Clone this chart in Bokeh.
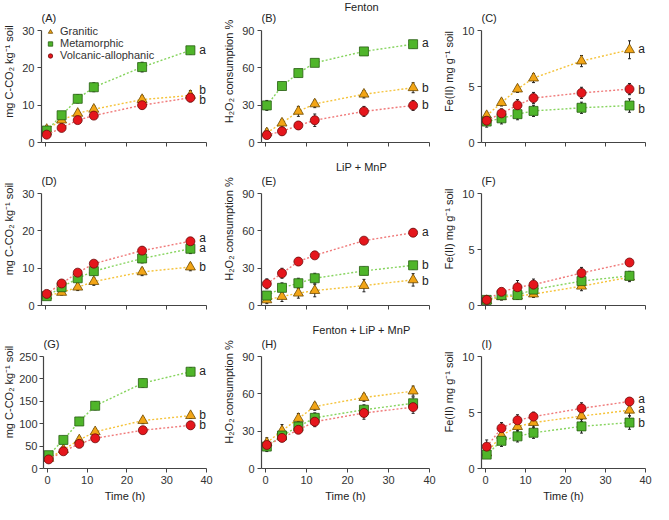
from bokeh.plotting import figure
from bokeh.models import (Range1d, FixedTicker, ColumnDataSource, Whisker, TeeHead,
                          Label, Legend, LegendItem)
from bokeh.layouts import row, column
from bokeh.embed import file_html
from bokeh.resources import INLINE
from bokeh.core.properties import value

FONT = "Liberation Sans"

# ---------------- data ----------------
times = [0.3, 4, 8, 12, 24, 36]
series_names = ["Granitic", "Metamorphic", "Volcanic-allophanic"]
x_ticks = [0, 10, 20, 30, 40]

# Fenton
A_gran = [3.5, 6.0, 7.8, 8.9, 11.5, 12.6]
A_meta = [3.2, 7.3, 11.7, 14.8, 20.2, 24.7]
A_volc = [2.1, 3.9, 6.0, 7.2, 10.0, 12.0]
A_gran_err = [0.9, 0.8, 0.9, 0.9, 1.0, 1.3]
A_meta_err = [0.8, 1.0, 1.1, 1.2, 1.3, 1.0]
A_volc_err = [0.8, 0.7, 0.8, 0.8, 1.0, 1.1]

B_gran = [7.8, 15.6, 25.0, 31.0, 38.8, 44.0]
B_meta = [29.8, 45.4, 55.8, 64.0, 73.2, 79.0]
B_volc = [6.0, 9.0, 13.7, 17.9, 25.0, 29.8]
B_gran_err = [3, 3, 4, 3, 3, 4]
B_meta_err = [4, 3, 3, 2, 2, 3]
B_volc_err = [3, 3, 3, 5, 4, 4]

C_gran = [2.4, 3.56, 4.77, 5.75, 7.27, 8.28]
C_meta = [1.87, 2.16, 2.53, 2.82, 3.1, 3.3]
C_volc = [1.95, 2.6, 3.33, 3.97, 4.43, 4.77]
C_gran_err = [0.3, 0.3, 0.3, 0.4, 0.5, 0.8]
C_meta_err = [0.5, 0.5, 0.5, 0.5, 0.5, 0.6]
C_volc_err = [0.4, 0.4, 0.5, 0.5, 0.5, 0.5]

# LiP + MnP
D_gran = [2.6, 3.5, 4.9, 6.4, 9.0, 10.3]
D_meta = [2.5, 4.9, 7.3, 9.2, 12.6, 15.2]
D_volc = [3.1, 5.9, 8.8, 11.2, 14.7, 17.2]
D_gran_err = [0.6, 0.7, 0.9, 1.0, 1.0, 1.0]
D_meta_err = [0.7, 1.0, 1.0, 1.0, 1.2, 1.3]
D_volc_err = [0.6, 0.6, 0.7, 0.8, 1.0, 0.9]

E_gran = [4.5, 7.2, 9.9, 12.0, 16.0, 20.6]
E_meta = [8.0, 14.2, 17.9, 21.9, 27.8, 32.3]
E_volc = [17.4, 25.9, 35.3, 40.3, 52.1, 58.5]
E_gran_err = [3, 4, 4, 5, 5, 5]
E_meta_err = [3, 4, 4, 4, 3, 3]
E_volc_err = [4, 4, 3, 2, 2, 3]

F_gran = [0.44, 0.78, 0.84, 1.02, 1.72, 2.53]
F_meta = [0.5, 0.93, 0.93, 1.42, 2.18, 2.65]
F_volc = [0.5, 1.22, 1.63, 1.86, 2.9, 3.84]
F_gran_err = [0.2, 0.3, 0.3, 0.3, 0.4, 0.4]
F_meta_err = [0.3, 0.3, 0.3, 0.4, 0.4, 0.4]
F_volc_err = [0.2, 0.3, 0.6, 0.5, 0.5, 0.2]

# Fenton + LiP + MnP
G_gran = [22.5, 42.0, 63.8, 82.0, 107.0, 118.0]
G_meta = [29.7, 63.8, 105.0, 140.0, 190.6, 216.0]
G_volc = [20.3, 38.4, 55.0, 67.4, 85.5, 96.4]
G_gran_err = [6, 6, 7, 7, 7, 6]
G_meta_err = [7, 8, 9, 9, 9, 9]
G_volc_err = [5, 5, 6, 6, 7, 8]

H_gran = [20.7, 30.3, 40.2, 49.8, 57.0, 62.2]
H_meta = [17.6, 26.5, 33.7, 40.7, 47.2, 52.4]
H_volc = [18.9, 24.6, 31.1, 37.6, 44.6, 49.3]
H_gran_err = [4, 5, 4, 3, 3, 4]
H_meta_err = [4, 4, 4, 4, 4, 5]
H_volc_err = [4, 3, 3, 4, 5, 5]

I_gran = [1.38, 2.96, 3.74, 4.1, 4.68, 5.2]
I_meta = [1.24, 2.47, 2.87, 3.19, 3.76, 4.1]
I_volc = [1.95, 3.6, 4.3, 4.63, 5.37, 5.98]
I_gran_err = [0.3, 0.4, 0.4, 0.4, 0.5, 0.5]
I_meta_err = [0.3, 0.5, 0.5, 0.5, 0.6, 0.6]
I_volc_err = [0.6, 0.5, 0.5, 0.4, 0.5, 0.3]

# significance letters (text, y)
A_letters = ["a", "b", "b"]; A_letter_y = [24.8, 14.1, 11.5]
B_letters = ["a", "b", "b"]; B_letter_y = [79.6, 44.0, 29.8]
C_letters = ["a", "b", "b"]; C_letter_y = [8.33, 4.68, 2.96]
D_letters = ["a", "a", "b"]; D_letter_y = [18.1, 15.4, 10.3]
E_letters = ["a", "b", "b"]; E_letter_y = [59.0, 32.3, 20.0]
G_letters = ["a", "b", "b"]; G_letter_y = [218.0, 119.6, 96.4]
I_letters = ["a", "a", "b"]; I_letter_y = [6.18, 5.29, 4.1]

row_titles = ["Fenton", "LiP + MnP", "Fenton + LiP + MnP"]
y_labels = ["mg C-CO\u2082 kg\u207b\u00b9 soil", "H\u2082O\u2082 consumption %", "Fe(II) mg g\u207b\u00b9 soil"]

# ---------------- styles ----------------
markers = ["triangle", "square", "circle"]
msizes = [10, 9, 9]
fills = ["#F2A516", "#4FB52A", "#E5161C"]
edges = ["#6E4A00", "#275E12", "#6E0A0A"]
lcolors = ["#F5C33B", "#86D45E", "#F07A7A"]

panels = [
    dict(tag="(A)", s=[A_gran, A_meta, A_volc], e=[A_gran_err, A_meta_err, A_volc_err],
         ymax=30, yt=[0, 10, 20, 30], let=A_letters, ly=A_letter_y),
    dict(tag="(B)", s=[B_gran, B_meta, B_volc], e=[B_gran_err, B_meta_err, B_volc_err],
         ymax=90, yt=[0, 30, 60, 90], let=B_letters, ly=B_letter_y),
    dict(tag="(C)", s=[C_gran, C_meta, C_volc], e=[C_gran_err, C_meta_err, C_volc_err],
         ymax=10, yt=[0, 5, 10], let=C_letters, ly=C_letter_y),
    dict(tag="(D)", s=[D_gran, D_meta, D_volc], e=[D_gran_err, D_meta_err, D_volc_err],
         ymax=30, yt=[0, 10, 20, 30], let=D_letters, ly=D_letter_y),
    dict(tag="(E)", s=[E_gran, E_meta, E_volc], e=[E_gran_err, E_meta_err, E_volc_err],
         ymax=90, yt=[0, 30, 60, 90], let=E_letters, ly=E_letter_y),
    dict(tag="(F)", s=[F_gran, F_meta, F_volc], e=[F_gran_err, F_meta_err, F_volc_err],
         ymax=10, yt=[0, 5, 10], let=[], ly=[]),
    dict(tag="(G)", s=[G_gran, G_meta, G_volc], e=[G_gran_err, G_meta_err, G_volc_err],
         ymax=250, yt=[0, 50, 100, 150, 200, 250], let=G_letters, ly=G_letter_y),
    dict(tag="(H)", s=[H_gran, H_meta, H_volc], e=[H_gran_err, H_meta_err, H_volc_err],
         ymax=90, yt=[0, 30, 60, 90], let=[], ly=[]),
    dict(tag="(I)", s=[I_gran, I_meta, I_volc], e=[I_gran_err, I_meta_err, I_volc_err],
         ymax=10, yt=[0, 5, 10], let=I_letters, ly=I_letter_y),
]

# layout geometry
col_w = [216, 222, 215]
col_bl = [40, 45, 43]
col_br = [10, 9, 8]
row_h = [152, 163, 189]
row_top = [30, 41, 41]   # space above the axis top (inside frame)
row_bb = [10, 10, 36]
AH = 112  # axis height in px
title_up = [24, 27, 27]


def style_axis(ax):
    ax.axis_line_color = "#444"
    ax.axis_line_width = 1.2
    ax.major_tick_line_color = "#444"
    ax.major_tick_out = 4
    ax.major_tick_in = 0
    ax.minor_tick_line_color = None
    ax.major_label_text_font = FONT
    ax.major_label_text_font_size = "11px"
    ax.major_label_text_color = "#333"
    ax.axis_label_text_font = FONT
    ax.axis_label_text_font_size = "11px"
    ax.axis_label_text_font_style = "normal"
    ax.axis_label_text_color = "#222"
    ax.major_label_standoff = 3
    ax.axis_label_standoff = 4


rows = []
for ri in range(3):
    figs = []
    for ci in range(3):
        pd_ = panels[ri * 3 + ci]
        ymax = pd_["ymax"]
        ytop = ymax * (AH + row_top[ri]) / AH
        p = figure(width=col_w[ci], height=row_h[ri], title_location=None,
                   x_range=Range1d(-1, 40), y_range=Range1d(0, ytop),
                   output_backend="svg", toolbar_location=None,
                   min_border_left=col_bl[ci], min_border_right=col_br[ci],
                   min_border_top=0, min_border_bottom=row_bb[ri])
        p.xgrid.visible = False
        p.ygrid.visible = False
        p.outline_line_color = None
        p.background_fill_color = "white"
        p.border_fill_color = "white"
        p.xaxis.ticker = FixedTicker(ticks=x_ticks)
        p.yaxis.ticker = FixedTicker(ticks=pd_["yt"])
        for ax in p.xaxis + p.yaxis:
            style_axis(ax)
        p.yaxis.bounds = (0, ymax)
        p.yaxis.axis_label = y_labels[ci]
        if ymax >= 100:
            p.yaxis.major_label_standoff = 2
            p.yaxis.axis_label_standoff = 1
        if ri < 2:
            p.xaxis.major_label_text_font_size = "1px"
            p.xaxis.major_label_text_color = None
        else:
            p.xaxis.axis_label = "Time (h)"
            p.xaxis.axis_label_standoff = 3

        rends = []
        for si in range(3):
            ys = pd_["s"][si]
            es = pd_["e"][si]
            src = ColumnDataSource(dict(
                x=times, y=ys,
                upper=[a + b for a, b in zip(ys, es)],
                lower=[a - b for a, b in zip(ys, es)]))
            p.line("x", "y", source=src, line_color=lcolors[si], line_dash="2 2", line_width=1.4)
            w = Whisker(base="x", upper="upper", lower="lower", source=src,
                        line_color="#222", line_width=1, level="underlay",
                        upper_head=TeeHead(size=3, line_color="#222", line_width=1),
                        lower_head=TeeHead(size=3, line_color="#222", line_width=1))
            p.add_layout(w)
            r = p.scatter("x", "y", source=src, marker=markers[si], size=msizes[si],
                          fill_color=fills[si], line_color=edges[si], line_width=0.8)
            rends.append(r)

        if pd_["let"]:
            p.text(x=[38.2] * len(pd_["let"]), y=pd_["ly"], text=pd_["let"],
                   text_font=value(FONT), text_font_size="12px", text_color="#222",
                   text_font_style="normal",
                   text_baseline="middle", text_align="left")

        p.add_layout(Label(x=0, y=AH + 13, x_units="screen", y_units="screen",
                           text=pd_["tag"], text_font=FONT, text_font_size="11px",
                           text_font_style="normal",
                           text_color="#222", text_baseline="middle", text_align="left"))
        if ci == 1:
            p.add_layout(Label(x=100, y=AH + title_up[ri], x_units="screen", y_units="screen",
                               text=row_titles[ri], text_font=FONT, text_font_size="11px",
                               text_font_style="normal",
                               text_color="#222", text_baseline="middle", text_align="center"))

        if ri == 0 and ci == 0:
            leg = Legend(items=[LegendItem(label=series_names[k], renderers=[rends[k]]) for k in range(3)],
                         location=(3, 81), border_line_color=None, background_fill_alpha=0,
                         padding=0, margin=0, spacing=0, label_height=11, glyph_height=11,
                         glyph_width=12, label_standoff=4, label_text_font=FONT,
                         label_text_font_size="11px", label_text_color="#333")
            p.add_layout(leg)
        figs.append(p)
    rows.append(row(*figs))

layout = column(*rows)
open("out.html", "w").write(file_html(layout, INLINE))
